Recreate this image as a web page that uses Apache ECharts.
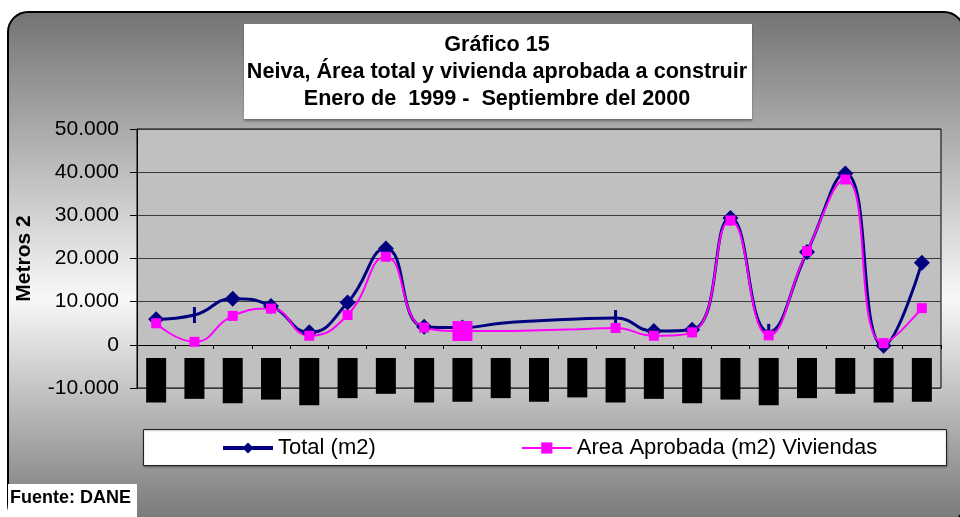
<!DOCTYPE html>
<html>
<head>
<meta charset="utf-8">
<script src="https://cdn.jsdelivr.net/npm/echarts@6.0.0/dist/echarts.min.js"></script>
<style>
  html, body { margin:0; padding:0; background:#fff; }
  #chart { width:960px; height:517px; }
</style>
</head>
<body>
<div id="chart"></div>
<script type="text/javascript">
  // meses ene-99 .. sep-00
  var meses = ['ene-99','feb-99','mar-99','abr-99','may-99','jun-99','jul-99','ago-99','sep-99','oct-99','nov-99','dic-99',
               'ene-00','feb-00','mar-00','abr-00','may-00','jun-00','jul-00','ago-00','sep-00'];
  // Total (m2)
  var total = [5900, 6900, 10700, 9000, 2900, 9800, 22300, 4200, 4000, 5000, 5600, 6000,
               6200, 3200, 3500, 29400, 3000, 21500, 39700, -200, 19000];
  // Area Aprobada (m2) Viviendas
  var viviendas = [5000, 700, 6700, 8400, 2100, 6900, 20400, 4000, 3200, 3200, 3400, 3600,
                   3900, 2100, 2900, 28800, 2200, 21700, 38300, 400, 8500];
  var yTicks = [-10000, 0, 10000, 20000, 30000, 40000, 50000];

  // puntos sin marcador / marcadores raros del original
  var sinMarca = [9, 10, 11];
  var marcaRaya = [1, 12, 16];
  var marcaGrande = [8];

  function miles(v){
    return String(v).replace(/\B(?=(\d{3})+(?!\d))/g, '.');
  }

  var serieTotal = [];
  for (var i = 0; i < total.length; i++) {
    var p = { value: total[i] };
    if (sinMarca.indexOf(i) >= 0) p.symbol = 'none';
    if (marcaRaya.indexOf(i) >= 0) { p.symbol = 'rect'; p.symbolSize = [3, 16]; }
    serieTotal.push(p);
  }
  var serieViv = [];
  for (var i = 0; i < viviendas.length; i++) {
    var q = { value: viviendas[i] };
    if (sinMarca.indexOf(i) >= 0) q.symbol = 'none';
    if (marcaGrande.indexOf(i) >= 0) q.symbolSize = 20;
    serieViv.push(q);
  }

  var fuente = 'Liberation Sans, Arial, sans-serif';
  var myChart = echarts.init(document.getElementById('chart'));
  myChart.setOption({
    backgroundColor: '#fff',
    animation: false,
    textStyle: { fontFamily: fuente },
    title: {
      text: 'Gráfico 15\nNeiva, Área total y vivienda aprobada a construir\nEnero de  1999 -  Septiembre del 2000',
      left: 492,
      top: 27,
      textAlign: 'center',
      textStyle: { fontSize: 21.6, fontWeight: 'bold', color: '#000', lineHeight: 27, fontFamily: fuente }
    },
    legend: {
      data: [
        { name: 'Total (m2)', lineStyle: { width: 4 } },
        { name: 'Area Aprobada (m2) Viviendas', lineStyle: { width: 2 } }
      ],
      left: 216,
      top: 432,
      itemWidth: 50,
      itemHeight: 14,
      itemGap: 145,
      textStyle: { fontSize: 22, color: '#000', fontFamily: fuente }
    },
    graphic: [
      {
        type: 'rect', z: -10,
        shape: { x: 8, y: 12, width: 956, height: 512, r: 20 },
        style: {
          fill: new echarts.graphic.LinearGradient(0, 0, 0, 1, [
            { offset: 0, color: '#737373' },
            { offset: 0.56, color: '#f8f8f8' },
            { offset: 1, color: '#767676' }
          ]),
          stroke: '#000', lineWidth: 2
        }
      },
      {
        type: 'rect', z: 1,
        shape: { x: 244, y: 24, width: 508, height: 95 },
        style: { fill: '#fff', shadowColor: 'rgba(0,0,0,0.35)', shadowOffsetY: 2, shadowBlur: 2 }
      },
      {
        type: 'rect', z: 1,
        shape: { x: 143.5, y: 429.5, width: 803, height: 36 },
        style: { fill: '#fff', stroke: '#222', lineWidth: 1, shadowColor: 'rgba(0,0,0,0.3)', shadowOffsetY: 1, shadowBlur: 2 }
      },
      {
        type: 'rect', z: 1,
        shape: { x: 8, y: 484, width: 129, height: 34 },
        style: { fill: '#fff' }
      },
      {
        type: 'text', z: 2,
        x: 10, y: 498,
        style: { text: 'Fuente: DANE', font: 'bold 18px Liberation Sans', fill: '#000', verticalAlign: 'middle' }
      }
    ],
    grid: {
      left: 137, right: 19, top: 129, bottom: 129,
      show: true,
      backgroundColor: '#c0c0c0',
      borderColor: '#000',
      borderWidth: 1
    },
    xAxis: {
      type: 'category',
      data: meses,
      boundaryGap: true,
      offset: -43,
      axisLine: { onZero: false, lineStyle: { color: '#000', width: 1 } },
      axisTick: { show: true, length: 4, lineStyle: { color: '#000' } },
      axisLabel: {
        interval: 0,
        rotate: 90,
        margin: 13,
        fontSize: 13,
        lineHeight: 14,
        fontFamily: fuente,
        color: '#000',
        backgroundColor: '#000',
        padding: [3, 2]
      },
      splitLine: { show: false }
    },
    yAxis: {
      type: 'value',
      min: yTicks[0],
      max: yTicks[yTicks.length - 1],
      interval: 10000,
      name: 'Metros 2',
      nameLocation: 'middle',
      nameRotate: 90,
      nameGap: 102,
      nameTextStyle: { fontSize: 21, fontWeight: 'bold', color: '#000', fontFamily: fuente },
      axisLine: { show: true, lineStyle: { color: '#000' } },
      axisTick: { show: true, length: 7, lineStyle: { color: '#000' } },
      axisLabel: {
        margin: 18,
        fontSize: 21,
        color: '#000',
        fontFamily: fuente,
        formatter: function (v) { return miles(v); }
      },
      splitLine: { show: true, lineStyle: { color: '#3a3a3a', width: 1 } }
    },
    series: [
      {
        name: 'Total (m2)',
        type: 'line',
        smooth: 0.5,
        data: serieTotal,
        symbol: 'diamond',
        symbolSize: 16,
        itemStyle: { color: '#000080' },
        lineStyle: { color: '#000080', width: 3 }
      },
      {
        name: 'Area Aprobada (m2) Viviendas',
        type: 'line',
        smooth: 0.5,
        data: serieViv,
        symbol: 'rect',
        symbolSize: 10,
        itemStyle: { color: '#ff00ff' },
        lineStyle: { color: '#ff00ff', width: 2 }
      }
    ]
  });
</script>
</body>
</html>
